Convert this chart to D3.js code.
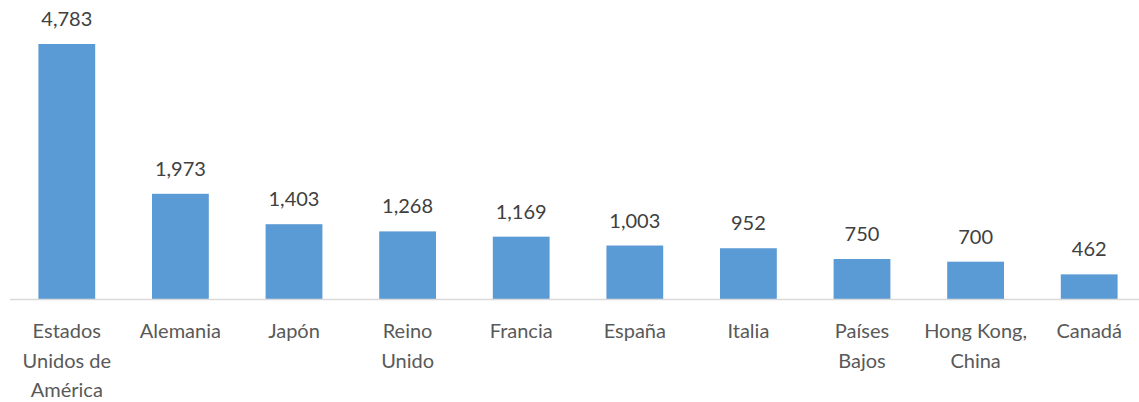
<!DOCTYPE html>
<html>
<head>
    <meta charset="utf-8">
    <title>Exportaciones por país</title>
    <script src="https://d3js.org/d3.v7.min.js"></script>
    <style>
        body {
            margin: 0;
            background: #fff;
        }
        svg text {
            font-family: Lato, "Open Sans", sans-serif;
        }
    </style>
</head>
<body>
    <svg id="chart" width="1139" height="402"></svg>

    <script>
        const categories = [
            "Estados\nUnidos de\nAmérica",
            "Alemania",
            "Japón",
            "Reino\nUnido",
            "Francia",
            "España",
            "Italia",
            "Países\nBajos",
            "Hong Kong,\nChina",
            "Canadá"
        ];
        const values = [4783, 1973, 1403, 1268, 1169, 1003, 952, 750, 700, 462];

        const data = categories.map((c, i) => ({ category: c, value: values[i] }));

        const svg = d3.select("#chart");
        const baseline = 299;

        const x = d3.scaleBand()
            .domain(categories)
            .range([10, 1146])
            .paddingInner(0.5)
            .paddingOuter(0.25);

        const y = d3.scaleLinear()
            .domain([0, 4783])
            .range([baseline, 44]);

        // bars
        svg.selectAll(".bar")
            .data(data)
            .enter()
            .append("rect")
            .attr("class", "bar")
            .attr("x", d => x(d.category))
            .attr("width", x.bandwidth())
            .attr("y", d => y(d.value))
            .attr("height", d => baseline - y(d.value))
            .attr("fill", "#5b9bd5");

        // baseline
        svg.append("line")
            .attr("x1", 10)
            .attr("x2", 1139)
            .attr("y1", baseline + 0.5)
            .attr("y2", baseline + 0.5)
            .attr("stroke", "#d9d9d9")
            .attr("stroke-width", 1.5);

        // value labels
        svg.selectAll(".val")
            .data(data)
            .enter()
            .append("text")
            .attr("class", "val")
            .attr("x", d => x(d.category) + x.bandwidth() / 2)
            .attr("y", d => y(d.value) - 18)
            .attr("text-anchor", "middle")
            .attr("fill", "#404040")
            .style("font-size", "20px")
            .text(d => d3.format(",")(d.value));

        // category labels
        const lab = svg.selectAll(".cat")
            .data(data)
            .enter()
            .append("text")
            .attr("class", "cat")
            .attr("x", d => x(d.category) + x.bandwidth() / 2)
            .attr("y", 338)
            .attr("text-anchor", "middle")
            .attr("fill", "#595959")
            .style("font-size", "20px");

        lab.each(function(d) {
            const lines = d.category.split("\n");
            const t = d3.select(this);
            lines.forEach((ln, i) => {
                t.append("tspan")
                    .attr("x", x(d.category) + x.bandwidth() / 2)
                    .attr("dy", i === 0 ? 0 : 29.5)
                    .text(ln);
            });
        });
    </script>
</body>
</html>
